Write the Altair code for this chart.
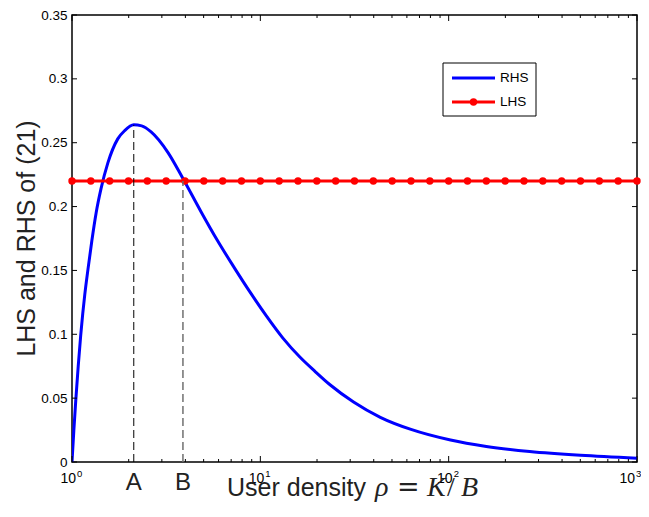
import altair as alt
import pandas as pd

# ---------------- data ----------------
rho = [1, 1.023, 1.047, 1.079, 1.112, 1.140, 1.169, 1.216, 1.274, 1.343, 1.426,
       1.549, 1.750, 1.905, 2.128, 2.344, 2.630, 3.228, 3.882, 4.842, 5.888,
       7.211, 8.913, 10.81, 13.18, 16.26, 19.50, 23.44, 31.26, 43.35, 63.1,
       102.3, 158.5, 269.2, 501.2, 1000]
rhs = [0.0, 0.025, 0.048, 0.075, 0.099, 0.116, 0.131, 0.151, 0.173, 0.195, 0.214,
       0.234, 0.253, 0.2595, 0.264, 0.2632, 0.2585, 0.2425, 0.222, 0.196, 0.174,
       0.153, 0.132, 0.114, 0.097, 0.082, 0.071, 0.0605, 0.047, 0.035, 0.0255,
       0.0172, 0.0122, 0.0082, 0.0052, 0.003]

lhs_rho = [1, 1.259, 1.585, 1.995, 2.512, 3.162, 3.981, 5.012, 6.310, 7.943,
           10, 12.59, 15.85, 19.95, 25.12, 31.62, 39.81, 50.12, 63.10, 79.43,
           100, 125.9, 158.5, 199.5, 251.2, 316.2, 398.1, 501.2, 631.0, 794.3, 1000]
lhs_val = [0.22] * len(lhs_rho)

marker_names = ["A", "B"]
marker_rho = [2.128, 3.882]
marker_top = [0.264, 0.22]

y_ticks = [0, 0.05, 0.1, 0.15, 0.2, 0.25, 0.3, 0.35]
x_major = [1, 10, 100, 1000]
x_exp = ["0", "1", "2", "3"]
x_minor = [2, 3, 4, 5, 6, 7, 8, 9, 20, 30, 40, 50, 60, 70, 80, 90,
           200, 300, 400, 500, 600, 700, 800, 900]

series_names = ["RHS", "LHS"]

W, H = 565, 447
SANS = "Liberation Sans"

xscale = alt.Scale(type="log", domain=[1, 1000], nice=False)
yscale = alt.Scale(domain=[0, 0.35], nice=False, zero=False)
yaxis = alt.Axis(values=y_ticks, format=".2~f", ticks=False, domain=False, grid=False,
                 title=None, labelFont=SANS, labelFontSize=13.5, labelColor="black",
                 labelPadding=5)


def X(f):
    return alt.X(f, type="quantitative", scale=xscale, axis=None)


def Y(f):
    return alt.Y(f, type="quantitative", scale=yscale, axis=yaxis)


rhs_df = pd.DataFrame({"rho": rho, "v": rhs})
lhs_df = pd.DataFrame({"rho": lhs_rho, "v": lhs_val})
mk_df = pd.DataFrame({"name": marker_names, "rho": marker_rho, "top": marker_top,
                      "zero": [0, 0]})
yt_df = pd.DataFrame({"v": y_ticks})
xmaj_df = pd.DataFrame({"x": x_major, "base": ["10"] * 4, "exp": x_exp})
xmin_df = pd.DataFrame({"x": x_minor})
one = pd.DataFrame({"k": [0]})

rhs_line = alt.Chart(rhs_df).mark_line(color="#0000ff", strokeWidth=3,
                                        interpolate="monotone", clip=True).encode(
    x=X("rho"), y=Y("v"))

lhs_line = alt.Chart(lhs_df).mark_line(color="#ff0000", strokeWidth=3, clip=True).encode(
    x=X("rho"), y=Y("v"))
lhs_pts = alt.Chart(lhs_df).mark_circle(color="#ff0000", size=55, opacity=1).encode(
    x=X("rho"), y=Y("v"))

dash_a = alt.Chart(mk_df[mk_df.name == "A"]).mark_rule(
    color="black", strokeWidth=1, strokeDash=[8, 4]).encode(
    x=X("rho"), y=Y("zero"), y2="top")
dash_b = alt.Chart(mk_df[mk_df.name == "B"]).mark_rule(
    color="#707070", strokeWidth=1.5, strokeDash=[8, 4]).encode(
    x=X("rho"), y=Y("zero"), y2="top")
ab_text = alt.Chart(mk_df).mark_text(font=SANS, fontSize=24, align="center",
                                      baseline="alphabetic", color="#222").encode(
    x=X("rho"), y=alt.value(475), text="name")

# ticks (inward, MATLAB style)
yt_left = alt.Chart(yt_df).mark_rule(color="black", strokeWidth=1).encode(
    y=Y("v"), x=alt.value(0), x2=alt.value(5))
yt_right = alt.Chart(yt_df).mark_rule(color="black", strokeWidth=1).encode(
    y=Y("v"), x=alt.value(W), x2=alt.value(W - 5))
xt_bot = alt.Chart(xmaj_df).mark_rule(color="black", strokeWidth=1).encode(
    x=X("x"), y=alt.value(H), y2=alt.value(H - 6))
xt_top = alt.Chart(xmaj_df).mark_rule(color="black", strokeWidth=1).encode(
    x=X("x"), y=alt.value(0), y2=alt.value(6))
xm_bot = alt.Chart(xmin_df).mark_rule(color="black", strokeWidth=1).encode(
    x=X("x"), y=alt.value(H), y2=alt.value(H - 3))
xm_top = alt.Chart(xmin_df).mark_rule(color="black", strokeWidth=1).encode(
    x=X("x"), y=alt.value(0), y2=alt.value(3))

# x tick labels 10^k (the last one nudged left so that it stays on the page)
inner = xmaj_df[xmaj_df.x < 1000]
last = xmaj_df[xmaj_df.x == 1000]
x_base = alt.Chart(inner).mark_text(font=SANS, fontSize=14, align="right",
                                     baseline="alphabetic", dx=4, color="black").encode(
    x=X("x"), y=alt.value(468), text="base")
x_expo = alt.Chart(inner).mark_text(font=SANS, fontSize=9.5, align="left",
                                     baseline="alphabetic", dx=5, color="black").encode(
    x=X("x"), y=alt.value(462), text="exp")
x_base_l = alt.Chart(last).mark_text(font=SANS, fontSize=14, align="right",
                                      baseline="alphabetic", dx=-2, color="black").encode(
    x=X("x"), y=alt.value(468), text="base")
x_expo_l = alt.Chart(last).mark_text(font=SANS, fontSize=9.5, align="left",
                                      baseline="alphabetic", dx=-1, color="black").encode(
    x=X("x"), y=alt.value(462), text="exp")

# axis titles
y_title = alt.Chart(one).mark_text(text="LHS and RHS of (21)", font=SANS, fontSize=25,
                                    angle=270, align="center", baseline="alphabetic",
                                    color="#222").encode(
    x=alt.value(-37), y=alt.value(H / 2))
TY = 481
x_t1 = alt.Chart(one).mark_text(text="User density", font=SANS, fontSize=25,
                                 align="left", baseline="alphabetic", color="#222").encode(
    x=alt.value(155), y=alt.value(TY))
x_t2 = alt.Chart(one).mark_text(text="ρ", font="Liberation Serif", fontStyle="italic",
                                 fontSize=28, align="left", baseline="alphabetic",
                                 color="#222").encode(x=alt.value(303), y=alt.value(TY))
x_t3 = alt.Chart(one).mark_text(text="=", font="DejaVu Serif", fontSize=27,
                                 align="left", baseline="alphabetic",
                                 color="#222").encode(x=alt.value(325), y=alt.value(TY))
x_t4 = alt.Chart(one).mark_text(text="K", font="Liberation Serif", fontStyle="italic",
                                 fontSize=28, align="left", baseline="alphabetic",
                                 color="#222").encode(x=alt.value(355), y=alt.value(TY))
x_t5 = alt.Chart(one).mark_text(text="/", font="Liberation Serif", fontSize=28,
                                 align="left", baseline="alphabetic",
                                 color="#222").encode(x=alt.value(375), y=alt.value(TY))
x_t6 = alt.Chart(one).mark_text(text="B", font="Liberation Serif", fontStyle="italic",
                                 fontSize=28, align="left", baseline="alphabetic",
                                 color="#222").encode(x=alt.value(389), y=alt.value(TY))

# legend
LX0, LX1, LY0, LY1 = 371, 464, 48, 101
leg_box = alt.Chart(one).mark_rect(fill="white", stroke="black", strokeWidth=1).encode(
    x=alt.value(LX0), x2=alt.value(LX1), y=alt.value(LY0), y2=alt.value(LY1))
leg_l1 = alt.Chart(one).mark_rule(color="#0000ff", strokeWidth=3).encode(
    x=alt.value(380), x2=alt.value(423), y=alt.value(63))
leg_l2 = alt.Chart(one).mark_rule(color="#ff0000", strokeWidth=3).encode(
    x=alt.value(380), x2=alt.value(423), y=alt.value(87))
leg_dot = alt.Chart(one).mark_circle(color="#ff0000", size=55, opacity=1).encode(
    x=alt.value(401.5), y=alt.value(87))
leg_t1 = alt.Chart(one).mark_text(text=series_names[0], font=SANS, fontSize=13.5,
                                   align="left", baseline="middle", color="black").encode(
    x=alt.value(428), y=alt.value(63))
leg_t2 = alt.Chart(one).mark_text(text=series_names[1], font=SANS, fontSize=13.5,
                                   align="left", baseline="middle", color="black").encode(
    x=alt.value(428), y=alt.value(87))

chart = alt.layer(
    rhs_line, lhs_line, lhs_pts, dash_a, dash_b, ab_text,
    yt_left, yt_right, xt_bot, xt_top, xm_bot, xm_top,
    x_base, x_expo, x_base_l, x_expo_l,
    y_title, x_t1, x_t2, x_t3, x_t4, x_t5, x_t6,
    leg_box, leg_l1, leg_l2, leg_dot, leg_t1, leg_t2,
).properties(
    width=W, height=H,
    autosize=alt.AutoSizeParams(type="none"),
    padding={"left": 64, "top": 7, "right": 4, "bottom": 40},
    background="white",
).configure_view(stroke="black", strokeWidth=1.5)

chart.save("out.html", embed_options={"renderer": "svg", "actions": False})
